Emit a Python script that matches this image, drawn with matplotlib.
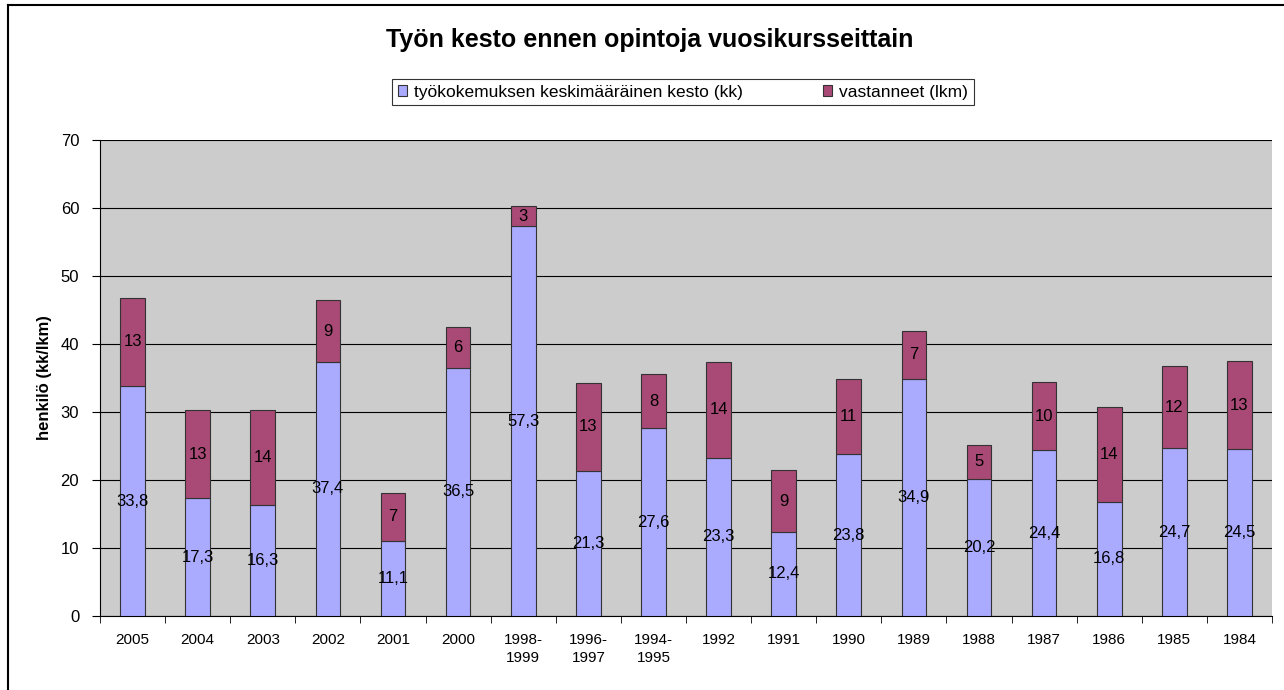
import matplotlib.pyplot as plt
import numpy as np
from matplotlib.lines import Line2D

plt.rcParams['font.family'] = ['Liberation Sans', 'DejaVu Sans']

years = ['2005', '2004', '2003', '2002', '2001', '2000', '1998-\n1999', '1996-\n1997',
         '1994-\n1995', '1992', '1991', '1990', '1989', '1988', '1987', '1986', '1985', '1984']
kesto = [33.8, 17.3, 16.3, 37.4, 11.1, 36.5, 57.3, 21.3, 27.6, 23.3, 12.4, 23.8, 34.9,
         20.2, 24.4, 16.8, 24.7, 24.5]
vastanneet = [13, 13, 14, 9, 7, 6, 3, 13, 8, 14, 9, 11, 7, 5, 10, 14, 12, 13]

blue = '#AAAAFF'
plum = '#A84A75'

fig = plt.figure(figsize=(12.84, 6.9), dpi=100)
ax = fig.add_axes([100 / 1284, 1 - 616 / 690, 1172 / 1284, 476 / 690])
ax.set_facecolor('#CCCCCC')

x = np.arange(len(years))
b1 = ax.bar(x, kesto, width=0.38, color=blue, edgecolor='#333333', linewidth=0.8,
            label='työkokemuksen keskimääräinen kesto (kk)', zorder=3)
b2 = ax.bar(x, vastanneet, width=0.38, bottom=kesto, color=plum, edgecolor='#333333',
            linewidth=0.8, label='vastanneet (lkm)', zorder=3)

# data labels
for i in range(len(years)):
    ax.text(x[i], kesto[i] / 2, str(kesto[i]).replace('.', ','), ha='center', va='center',
            fontsize=12, zorder=4)
    ax.text(x[i], kesto[i] + vastanneet[i] / 2, str(vastanneet[i]), ha='center',
            va='center', fontsize=12, zorder=4)

ax.set_xlim(-0.5, len(years) - 0.5)
ax.set_ylim(0, 70)
ax.set_yticks(range(0, 71, 10))
ax.yaxis.grid(True, color='black', linewidth=0.8, zorder=1)
ax.set_axisbelow(True)
ax.set_xticks(x)
ax.set_xticklabels(years, fontsize=11, linespacing=1.4)
ax.set_xticks(np.arange(-0.5, len(years), 1), minor=True)
ax.tick_params(axis='x', which='major', length=0, pad=12)
ax.tick_params(axis='x', which='minor', length=5, direction='out')
ax.tick_params(axis='y', labelsize=12, length=6, direction='out', pad=9)
for s in ['top', 'right']:
    ax.spines[s].set_visible(False)
ax.spines['left'].set_color('black')
ax.spines['bottom'].set_color('black')
ax.set_ylabel('henkilö (kk/lkm)', fontsize=12, fontweight='bold', labelpad=6)

fig.text(650 / 1284, 1 - 40 / 690, 'Työn kesto ennen opintoja vuosikursseittain',
         ha='center', va='center', fontsize=18, fontweight='bold')

leg = fig.legend(handles=[b1, b2], loc='center', bbox_to_anchor=(683 / 1284, 1 - 92 / 690),
                 ncol=2, fontsize=12.5, frameon=True, fancybox=False, edgecolor='black',
                 handlelength=0.55, handleheight=0.55, handletextpad=0.4, columnspacing=4.6,
                 borderpad=0.3)
leg.get_frame().set_linewidth(0.8)

# chart area border (left and top visible)
fig.add_artist(Line2D([8 / 1284, 8 / 1284], [0, 1 - 5 / 690], color='black', linewidth=1.5))
fig.add_artist(Line2D([8 / 1284, 1], [1 - 5 / 690, 1 - 5 / 690], color='black', linewidth=1.5))

fig.savefig('out.png', dpi=100)
